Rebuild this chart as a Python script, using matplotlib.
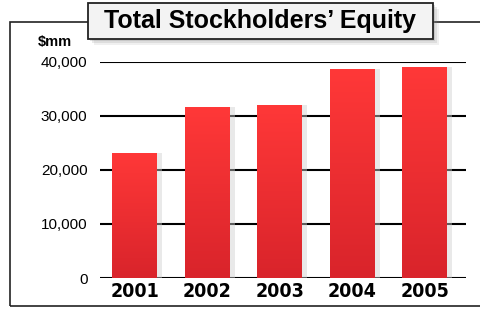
import matplotlib.pyplot as plt
import matplotlib.patches as mpatches
import numpy as np

years = ['2001', '2002', '2003', '2004', '2005']
equity = [23100, 31600, 32100, 38700, 39100]
yticks = [0, 10000, 20000, 30000, 40000]

fig = plt.figure(figsize=(4.81, 3.09), dpi=100)
fig.patch.set_facecolor('white')

# outer frame (runs off the right edge)
frame = mpatches.Rectangle((10/481, 1-306/309), 490/481, (306-22)/309,
                           transform=fig.transFigure, fill=False,
                           edgecolor='#222222', lw=1.2)
fig.patches.append(frame)

ax = fig.add_axes([100/481, 1-278/309, 366/481, (278-62)/309])
x = np.arange(len(years))
w = 0.62

for yv in yticks:
    ax.axhline(yv, color='black', lw=1.5, zorder=1)

# bar shadows
ax.bar(x + 0.07, equity, w, color='#d0d0d0', alpha=0.45, zorder=2)
bars = ax.bar(x, equity, w, color='#e8262b', zorder=3)

# vertical gradient on each bar
grad = np.linspace(0, 1, 100).reshape(-1, 1)
cmap = plt.matplotlib.colors.LinearSegmentedColormap.from_list('r', ['#d9242b', '#ff3838'])
for b in bars:
    im = ax.imshow(grad, extent=[b.get_x(), b.get_x() + b.get_width(), 0, b.get_height()],
                   origin='lower', cmap=cmap, aspect='auto', zorder=3)
    im.set_clip_path(b)

ax.set_xlim(-0.48, 4.57)
ax.set_ylim(0, 40000)
ax.set_yticks(yticks)
ax.set_yticklabels([f'{v:,}' for v in yticks], fontsize=11, family='Liberation Sans')
ax.set_xticks(x)
ax.set_xticklabels(years, fontsize=14, fontweight='bold', family='DejaVu Sans',
                   fontstretch='condensed')
ax.tick_params(axis='y', length=0, pad=9)
ax.tick_params(axis='x', length=0, pad=3)
for s in ax.spines.values():
    s.set_visible(False)

fig.text(38/481, 1-42/309, '$mm', fontsize=10.5, fontweight='bold',
         family='Liberation Sans', va='center', ha='left')

# title box with soft shadow
for i, a in enumerate([0.12, 0.18, 0.25]):
    off = 6 - 2*i
    sh = mpatches.Rectangle(((88+off)/481, 1-(39+off)/309), 345/481, 36/309,
                            transform=fig.transFigure, facecolor='#888888',
                            edgecolor='none', alpha=a)
    fig.patches.append(sh)
tb = mpatches.Rectangle((88/481, 1-39/309), 345/481, 36/309,
                        transform=fig.transFigure, facecolor='#f3f3f3',
                        edgecolor='#222222', lw=1.3)
fig.patches.append(tb)
fig.text(260/481, 1-21/309, 'Total Stockholders\u2019 Equity', fontsize=18,
         fontweight='bold', ha='center', va='center', family='Liberation Sans')

fig.savefig('out.png', dpi=100)
